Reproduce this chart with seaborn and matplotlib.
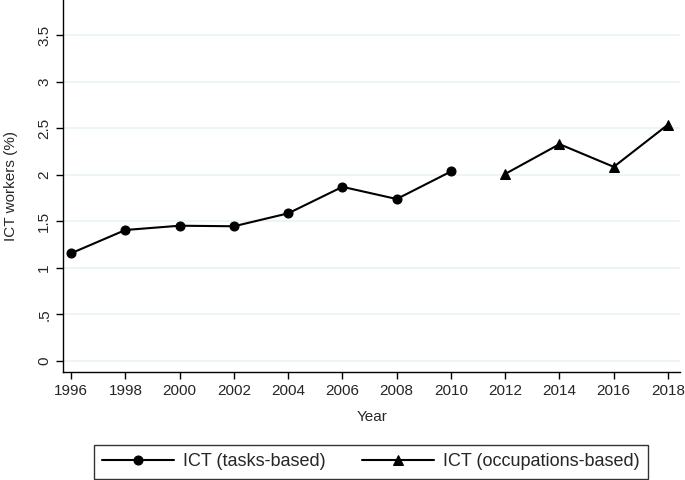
import matplotlib

matplotlib.use('Agg')
import matplotlib.pyplot as plt
import seaborn as sns
import pandas as pd

# 数据：ICT 工作者占比
years_tasks = [1996, 1998, 2000, 2002, 2004, 2006, 2008, 2010]
ict_tasks = [1.157, 1.407, 1.453, 1.447, 1.586, 1.871, 1.740, 2.036]
years_occ = [2012, 2014, 2016, 2018]
ict_occ = [2.01, 2.33, 2.086, 2.54]
series_names = ["ICT (tasks-based)", "ICT (occupations-based)"]
x_ticks = list(range(1996, 2019, 2))
y_ticks = [0, 0.5, 1, 1.5, 2, 2.5, 3, 3.5]
y_tick_labels = ["0", ".5", "1", "1.5", "2", "2.5", "3", "3.5"]

df = pd.concat([
    pd.DataFrame({"year": years_tasks, "value": ict_tasks, "series": series_names[0]}),
    pd.DataFrame({"year": years_occ, "value": ict_occ, "series": series_names[1]}),
])

sns.set_style("white")
plt.rcParams['font.family'] = ['Liberation Sans', 'DejaVu Sans']

fig = plt.figure(figsize=(6.85, 4.8), dpi=100)
ax = fig.add_axes([0.092, 0.225, 0.901, 0.775])

sns.lineplot(data=df, x="year", y="value", style="series", markers=["o", "^"],
             dashes=False, color="black", linewidth=1.5, markersize=6.5,
             markeredgecolor="black", ax=ax, legend=True)

ax.set_xlim(1995.7, 2018.45)
ax.set_ylim(-0.12, 3.88)
ax.set_xticks(x_ticks)
ax.set_yticks(y_ticks)
ax.set_yticklabels(y_tick_labels, rotation=90, va="center")
ax.tick_params(axis='both', direction='out', length=5, width=1, color='black',
               labelsize=11, left=True, bottom=True)
ax.grid(axis='y', color='#eaf2f3', linewidth=1.2)
ax.set_axisbelow(True)

for side in ['top', 'right']:
    ax.spines[side].set_visible(False)
for side in ['left', 'bottom']:
    ax.spines[side].set_color('black')
    ax.spines[side].set_linewidth(1)

ax.set_xlabel("Year", fontsize=11, labelpad=9)
ax.set_ylabel("ICT workers (%)", fontsize=11, labelpad=14)

# 图例放在底部并加边框
handles, labels = ax.get_legend_handles_labels()
leg = fig.legend(handles, labels, loc='lower center', bbox_to_anchor=(0.5416, 0.003),
                 ncol=2, fontsize=13, frameon=True, fancybox=False,
                 edgecolor='black', handlelength=4.0, handletextpad=0.5,
                 columnspacing=2.0, borderpad=0.45, borderaxespad=0.0)
leg.get_frame().set_linewidth(1)
if ax.get_legend():
    ax.get_legend().remove()

plt.savefig("out.png", dpi=100)
plt.close()
